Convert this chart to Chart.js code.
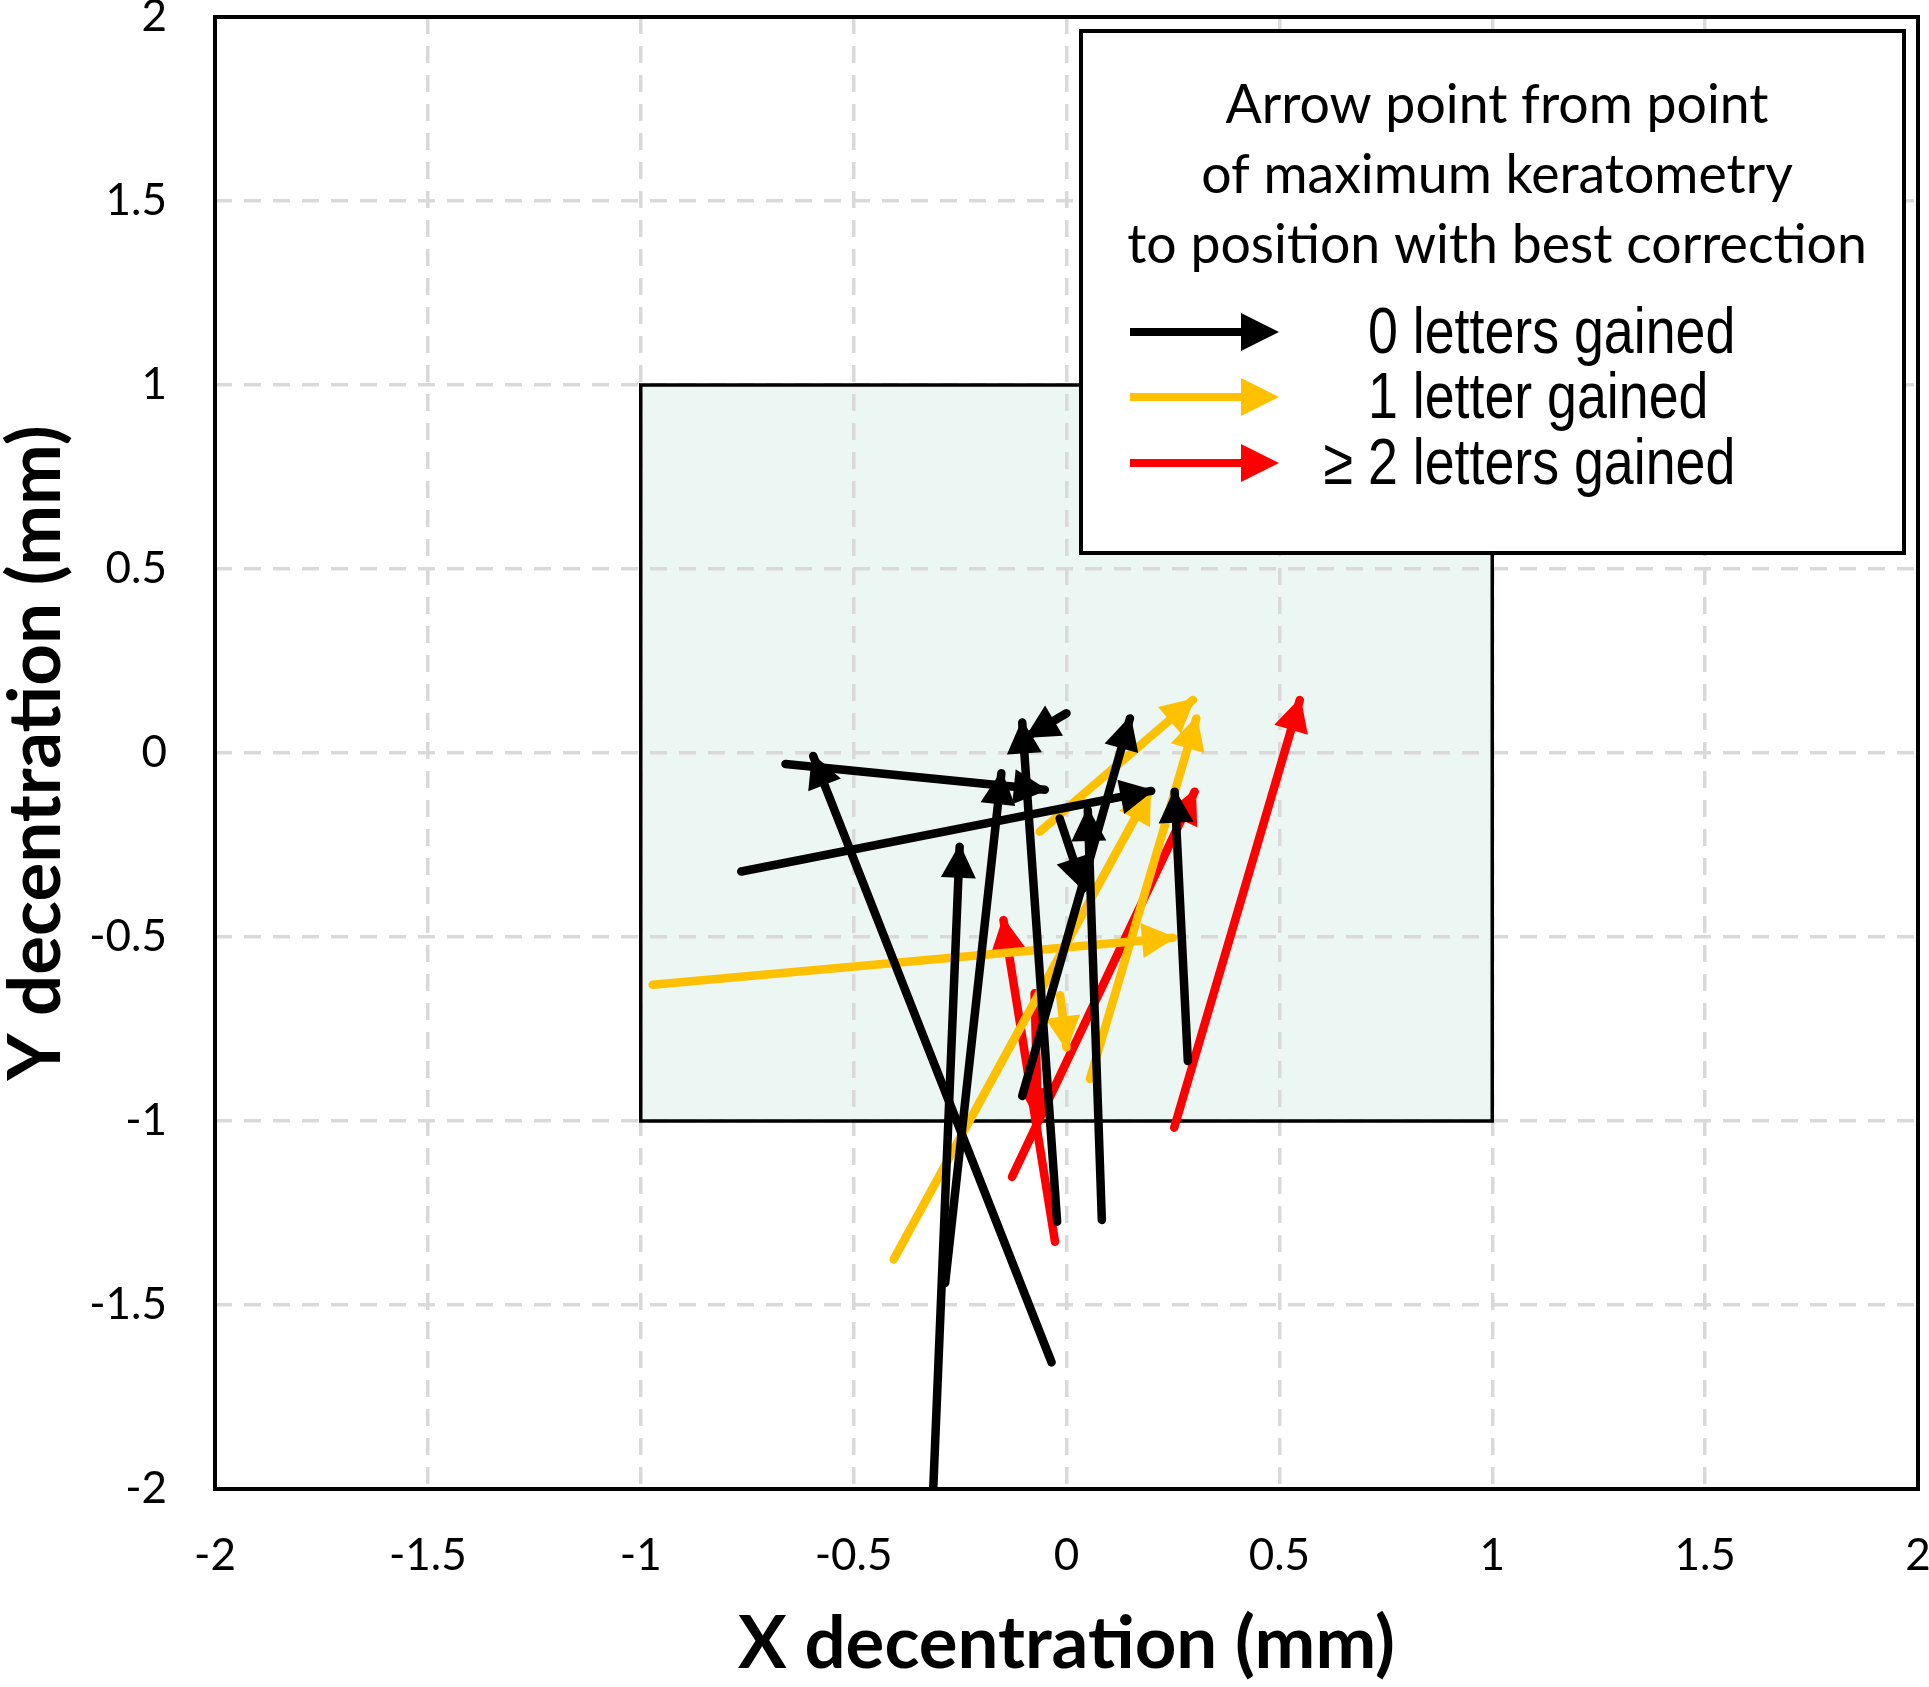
<!DOCTYPE html>
<html>
<head>
<meta charset="utf-8">
<script src="https://cdn.jsdelivr.net/npm/chart.js@4.4.1/dist/chart.umd.min.js"></script>
<style>
  html, body { margin: 0; padding: 0; background: #ffffff; }
  #wrap { width: 1929px; height: 1687px; }
</style>
</head>
<body>
<div id="wrap"><canvas id="c" width="1929" height="1687"></canvas></div>
<script>
// ---------------- data ----------------
const tickValues = [-2, -1.5, -1, -0.5, 0, 0.5, 1, 1.5, 2];
const xTickLabels = ['-2', '-1.5', '-1', '-0.5', '0', '0.5', '1', '1.5', '2'];
const yTickLabels = ['-2', '-1.5', '-1', '-0.5', '0', '0.5', '1', '1.5', '2'];
const xAxisTitle = 'X decentration (mm)';
const yAxisTitle = 'Y decentration (mm)';

// shaded zone (mm)
const zoneX = [-1, 1];
const zoneY = [-1, 1];

// arrows: from point of maximum keratometry -> position with best correction
const zeroLettersFrom = [[-0.66, -0.03], [-0.035, -1.656], [-0.764, -0.322], [-0.313, -2.0], [-0.285, -1.44],
                         [-0.022, -1.274], [-0.104, -0.932], [0.083, -1.269], [-0.016, -0.178], [0.285, -0.837], [0.0, 0.108]];
const zeroLettersTo   = [[-0.051, -0.10], [-0.595, -0.008], [0.199, -0.103], [-0.251, -0.255], [-0.153, -0.055],
                         [-0.104, 0.083], [0.149, 0.094], [0.05, -0.155], [0.039, -0.368], [0.254, -0.105], [-0.092, 0.045]];
const oneLetterFrom   = [[-0.972, -0.63], [-0.015, -0.658], [-0.406, -1.376], [0.055, -0.886], [-0.063, -0.214]];
const oneLetterTo     = [[0.25, -0.502], [0.0, -0.80], [0.195, -0.105], [0.305, 0.094], [0.297, 0.144]];
const twoLettersFrom  = [[0.253, -1.018], [-0.128, -1.152], [-0.027, -1.328], [-0.075, -0.653]];
const twoLettersTo    = [[0.548, 0.144], [0.301, -0.105], [-0.148, -0.454], [-0.067, -0.995]];

const seriesNames = ['0 letters gained', '1 letter gained', '\u2265 2 letters gained'];
const legendTitleLines = ['Arrow point from point', 'of maximum keratometry', 'to position with best correction'];

// ---------------- styles ----------------
const seriesColors = ['#000000', '#FFC000', '#FF0000'];
const labelFamily = '"Liberation Sans Narrow", "Liberation Sans", Arial, sans-serif';
const labelSquash = 0.82;

function measureAt100(text, prefix, family) {
  const c = document.createElement('canvas').getContext('2d');
  c.font = prefix + '100px ' + family;
  return c.measureText(text).width;
}
const axisTitleSize = 100 * 657 / measureAt100(xAxisTitle, 'bold ', 'Lato');
const legendTitleSize = 100 * 740 / measureAt100(legendTitleLines[2], '', 'Lato');
const legendLabelSize = 100 * 367 / (labelSquash * measureAt100(seriesNames[0], '', labelFamily));

const groups = [
  { from: zeroLettersFrom, to: zeroLettersTo, color: seriesColors[0], name: seriesNames[0] },
  { from: oneLetterFrom, to: oneLetterTo, color: seriesColors[1], name: seriesNames[1] },
  { from: twoLettersFrom, to: twoLettersTo, color: seriesColors[2], name: seriesNames[2] }
];

const datasets = [];
groups.forEach(g => {
  g.from.forEach((p, i) => {
    datasets.push({
      label: g.name,
      data: [{ x: p[0], y: p[1] }, { x: g.to[i][0], y: g.to[i][1] }],
      showLine: true,
      borderColor: g.color,
      backgroundColor: g.color,
      borderWidth: 8.5,
      borderCapStyle: 'round',
      pointRadius: 0,
      pointHoverRadius: 0,
      fill: false,
      tension: 0
    });
  });
});

function drawHead(ctx, x0, y0, x1, y1, len, half, color, extend) {
  const a = Math.atan2(y1 - y0, x1 - x0);
  const c = Math.cos(a), s = Math.sin(a);
  const tx = x1 + extend * c, ty = y1 + extend * s;
  const bx = tx - len * c, by = ty - len * s;
  ctx.beginPath();
  ctx.moveTo(tx, ty);
  ctx.lineTo(bx - half * s, by + half * c);
  ctx.lineTo(bx + half * s, by - half * c);
  ctx.closePath();
  ctx.fillStyle = color;
  ctx.fill();
}

const zonePlugin = {
  id: 'zone',
  beforeDraw(chart) {
    const { ctx, scales: { x, y } } = chart;
    const l = x.getPixelForValue(zoneX[0]), r = x.getPixelForValue(zoneX[1]);
    const t = y.getPixelForValue(zoneY[1]), b = y.getPixelForValue(zoneY[0]);
    ctx.save();
    ctx.fillStyle = '#ECF6F3';
    ctx.fillRect(l, t, r - l, b - t);
    ctx.restore();
  },
  beforeDatasetsDraw(chart) {
    const { ctx, scales: { x, y } } = chart;
    const l = x.getPixelForValue(zoneX[0]), r = x.getPixelForValue(zoneX[1]);
    const t = y.getPixelForValue(zoneY[1]), b = y.getPixelForValue(zoneY[0]);
    ctx.save();
    ctx.strokeStyle = '#000';
    ctx.lineWidth = 3.5;
    ctx.strokeRect(l, t, r - l, b - t);
    ctx.restore();
  }
};

const headPlugin = {
  id: 'heads',
  afterDatasetDraw(chart, args) {
    const meta = args.meta;
    const ds = chart.data.datasets[args.index];
    const p0 = meta.data[0], p1 = meta.data[1];
    if (!p0 || !p1) return;
    const ctx = chart.ctx;
    ctx.save();
    drawHead(ctx, p0.x, p0.y, p1.x, p1.y, 34, 17.5, ds.borderColor, 3);
    ctx.restore();
  }
};

const framePlugin = {
  id: 'frame',
  afterDatasetsDraw(chart) {
    const { ctx, chartArea: a } = chart;
    ctx.save();
    ctx.strokeStyle = '#000';
    ctx.lineWidth = 4;
    ctx.strokeRect(a.left, a.top, a.right - a.left, a.bottom - a.top);
    ctx.restore();
  }
};

const legendPlugin = {
  id: 'customLegend',
  afterDraw(chart) {
    const ctx = chart.ctx;
    ctx.save();
    const L = 1081, T = 31, R = 1904, B = 553;
    ctx.fillStyle = '#fff';
    ctx.fillRect(L, T, R - L, B - T);
    ctx.strokeStyle = '#000';
    ctx.lineWidth = 4;
    ctx.strokeRect(L, T, R - L, B - T);

    ctx.fillStyle = '#000';
    ctx.textAlign = 'center';
    ctx.textBaseline = 'middle';
    ctx.font = legendTitleSize.toFixed(1) + 'px Lato';
    const titleY = [106, 176, 246];
    legendTitleLines.forEach((t, i) => ctx.fillText(t, 1497, titleY[i]));

    const rowY = [332, 397, 463];
    ctx.font = legendLabelSize.toFixed(1) + 'px ' + labelFamily;
    ctx.textAlign = 'left';
    const textX = 1368;
    seriesNames.forEach((name, i) => {
      const col = seriesColors[i];
      ctx.strokeStyle = col;
      ctx.lineWidth = 8;
      ctx.lineCap = 'butt';
      ctx.beginPath();
      ctx.moveTo(1130, rowY[i]);
      ctx.lineTo(1250, rowY[i]);
      ctx.stroke();
      drawHead(ctx, 1130, rowY[i], 1279, rowY[i], 38, 19, col, 0);
      ctx.fillStyle = '#000';
      let x = textX;
      if (name.startsWith('\u2265')) x = textX - labelSquash * ctx.measureText('\u2265 ').width;
      ctx.save();
      ctx.translate(x, rowY[i] + 3);
      ctx.scale(labelSquash, 1);
      ctx.fillText(name, 0, 0);
      ctx.restore();
    });
    ctx.restore();
  }
};

const tickFont = { family: 'Lato', size: 44 };
function tickCb(labels) {
  return function (v) {
    const i = tickValues.findIndex(t => Math.abs(t - v) < 1e-9);
    return i >= 0 ? labels[i] : '';
  };
}
function zeroPad(s) {
  s.paddingTop = 0; s.paddingBottom = 0; s.paddingLeft = 0; s.paddingRight = 0;
}

new Chart(document.getElementById('c'), {
  type: 'scatter',
  data: { datasets },
  options: {
    responsive: false,
    animation: false,
    devicePixelRatio: 1,
    layout: { padding: { left: 0, top: 17, right: 11, bottom: 0 } },
    plugins: { legend: { display: false }, tooltip: { enabled: false } },
    scales: {
      x: {
        type: 'linear', min: -2, max: 2,
        ticks: { stepSize: 0.5, padding: 40, font: tickFont, color: '#000', maxRotation: 0, autoSkip: false, callback: tickCb(xTickLabels) },
        grid: { color: '#D9D9D9', lineWidth: 3.5, drawTicks: false },
        border: { display: false, dash: [17, 12] },
        title: { display: true, text: xAxisTitle, color: '#000', font: { family: 'Lato', weight: 'bold', size: axisTitleSize, lineHeight: 1 }, padding: { top: 0, bottom: 6 } },
        afterFit: s => { s.height = 198; zeroPad(s); }
      },
      y: {
        type: 'linear', min: -2, max: 2,
        ticks: { stepSize: 0.5, padding: 48, font: tickFont, color: '#000', autoSkip: false, callback: tickCb(yTickLabels) },
        grid: { color: '#D9D9D9', lineWidth: 3.5, drawTicks: false },
        border: { display: false, dash: [17, 12] },
        title: { display: true, text: yAxisTitle, color: '#000', font: { family: 'Lato', weight: 'bold', size: axisTitleSize, lineHeight: 1 }, padding: { top: 0, bottom: 0 } },
        afterFit: s => { s.width = 215; zeroPad(s); }
      }
    }
  },
  plugins: [zonePlugin, headPlugin, framePlugin, legendPlugin]
});
</script>
</body>
</html>
